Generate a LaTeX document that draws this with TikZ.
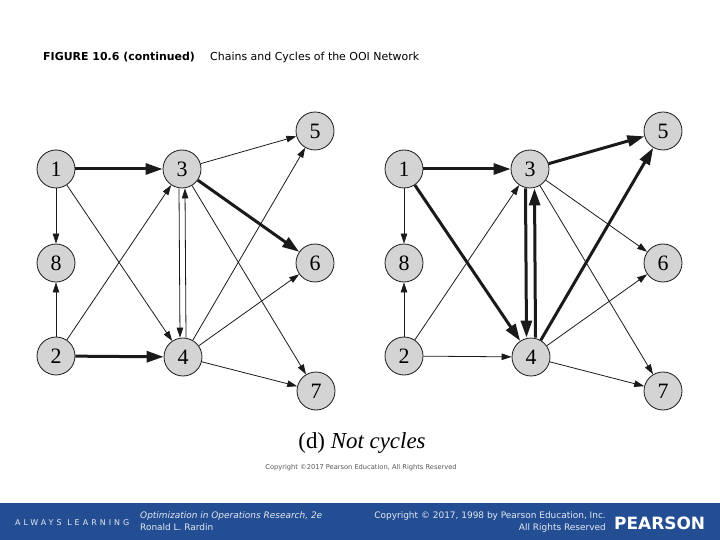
\documentclass[tikz,border=0pt]{standalone}
\usepackage{fontspec}
\setmainfont{Liberation Serif}
\newfontfamily\uifont{DejaVu Sans}
\usetikzlibrary{arrows.meta, positioning}
\definecolor{nodeGray}{HTML}{D4D4D4}
\definecolor{edgeDark}{HTML}{1A1A1A}
\definecolor{pearsonBlue}{HTML}{234E93}
\definecolor{footText}{HTML}{E4E8F0}
\definecolor{textMuted}{HTML}{555555}
\tikzset{
  nodeC/.style={circle, draw=edgeDark, fill=nodeGray, line width=0.8bp,
                minimum size=38bp, inner sep=0pt, font=\fontsize{22}{22}\selectfont},
  arcThin/.style={-{Triangle[length=10bp, width=6.5bp]}, edgeDark, line width=0.8bp},
  arcBold/.style={-{Triangle[length=17bp, width=11bp]}, edgeDark, line width=3bp},
  footLine/.style={inner sep=0pt, text=footText, font=\uifont\fontsize{9}{10}\selectfont},
}

\begin{document}
\begin{tikzpicture}[x=1bp, y=-1bp]
  \useasboundingbox (0,0) rectangle (720,540);
  % header
  \node[anchor=base west, inner sep=0pt, font=\uifont\bfseries\fontsize{11}{12}\selectfont] (fig) at (43,61) {FIGURE 10.6 (continued)};
  \node[anchor=base west, inner sep=0pt, font=\uifont\fontsize{11}{12}\selectfont] (ttl) at (210,61) {Chains and Cycles of the OOI Network};

  % left network
  \node[nodeC] (a1) at (56,169) {1};
  \node[nodeC] (a3) at (182,169) {3};
  \node[nodeC] (a5) at (315,131) {5};
  \node[nodeC] (a8) at (56,263) {8};
  \node[nodeC] (a6) at (315,263) {6};
  \node[nodeC] (a2) at (56,356) {2};
  \node[nodeC] (a4) at (183,357) {4};
  \node[nodeC] (a7) at (316,391) {7};
  \draw[arcBold] (a1) -- (a3); \draw[arcThin] (a1) -- (a8);
  \draw[arcThin] (a1) -- (a4); \draw[arcThin] (a2) -- (a8);
  \draw[arcThin] (a2) -- (a3); \draw[arcBold] (a2) -- (a4);
  \draw[arcThin] ([xshift=-3bp]a3.south) -- ([xshift=-3bp]a4.north);
  \draw[arcThin] ([xshift=3bp]a4.north) -- ([xshift=3bp]a3.south);
  \draw[arcThin] (a3) -- (a5); \draw[arcBold] (a3) -- (a6);
  \draw[arcThin] (a3) -- (a7); \draw[arcThin] (a4) -- (a5);
  \draw[arcThin] (a4) -- (a6); \draw[arcThin] (a4) -- (a7);

  % right network
  \node[nodeC] (b1) at (404,169) {1};
  \node[nodeC] (b3) at (530,169) {3};
  \node[nodeC] (b5) at (663,131) {5};
  \node[nodeC] (b8) at (404,263) {8};
  \node[nodeC] (b6) at (663,263) {6};
  \node[nodeC] (b2) at (404,356) {2};
  \node[nodeC] (b4) at (531,357) {4};
  \node[nodeC] (b7) at (663,391) {7};
  \draw[arcBold] (b1) -- (b3); \draw[arcThin] (b1) -- (b8);
  \draw[arcBold] (b1) -- (b4); \draw[arcThin] (b2) -- (b8);
  \draw[arcThin] (b2) -- (b3); \draw[arcThin] (b2) -- (b4);
  \draw[arcBold] ([xshift=-4.5bp]b3.south) -- ([xshift=-4.5bp]b4.north);
  \draw[arcBold] ([xshift=4.5bp]b4.north) -- ([xshift=4.5bp]b3.south);
  \draw[arcBold] (b3) -- (b5); \draw[arcThin] (b3) -- (b6);
  \draw[arcThin] (b3) -- (b7); \draw[arcBold] (b4) -- (b5);
  \draw[arcThin] (b4) -- (b6); \draw[arcThin] (b4) -- (b7);

  % caption
  \node[anchor=base, inner sep=0pt, font=\fontsize{23}{24}\selectfont] (cap) at (362,448) {(d) \textit{Not cycles}};
  \node[anchor=base, inner sep=0pt, text=textMuted, font=\uifont\fontsize{6.7}{8}\selectfont] (copy) at (361,469) {Copyright \textcopyright2017 Pearson Education, All Rights Reserved};

  % footer band
  \fill[pearsonBlue] (0,503) rectangle (720,540);
  \node[anchor=base west, inner sep=0pt, text=footText, font=\uifont\addfontfeature{LetterSpace=38}\fontsize{8}{9}\selectfont] (learn) at (15,525) {ALWAYS LEARNING};
  \node[footLine, anchor=base west] (book) at (140,518) {\textit{Optimization in Operations Research, 2e}};
  \node[footLine, anchor=base west] (auth) at (140,530) {Ronald L. Rardin};
  \node[footLine, anchor=base east] (rights) at (606,518) {Copyright \textcopyright{} 2017, 1998 by Pearson Education, Inc.};
  \node[footLine, anchor=base east] (allr) at (606,530) {All Rights Reserved};
  \node[anchor=base west, inner sep=0pt, text=white, font=\uifont\bfseries\fontsize{17}{17}\selectfont] (logo) at (614,529) {PEARSON};
\end{tikzpicture}
\end{document}
